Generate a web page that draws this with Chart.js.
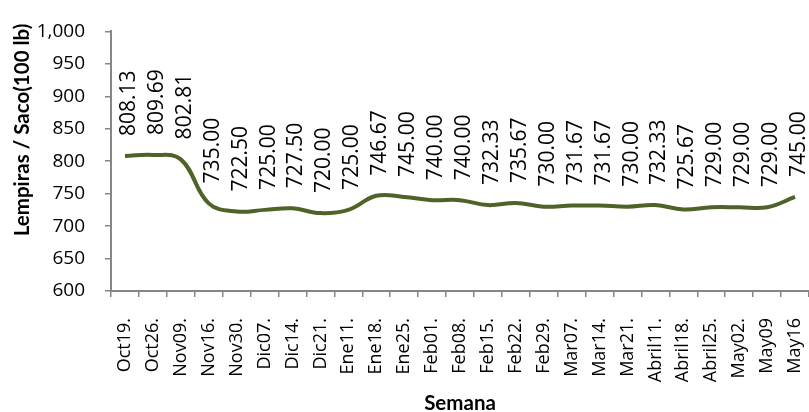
<!DOCTYPE html>
<html>
<head>
<meta charset="utf-8">
<script src="https://cdn.jsdelivr.net/npm/chart.js@4"></script>
<style>
  html, body { margin: 0; padding: 0; background: #fff; }
  #wrap { width: 809px; height: 412px; }
</style>
</head>
<body>
<div id="wrap"><canvas id="myChart" width="809" height="412"></canvas></div>
<script>
// weeks
const semanas = ["Oct19.", "Oct26.", "Nov09.", "Nov16.", "Nov30.", "Dic07.", "Dic14.", "Dic21.",
  "Ene11.", "Ene18.", "Ene25.", "Feb01.", "Feb08.", "Feb15.", "Feb22.", "Feb29.",
  "Mar07.", "Mar14.", "Mar21.", "Abril11.", "Abril18.", "Abril25.", "May02.", "May09", "May16"];

// price per sack
const precios = [808.13, 809.69, 802.81, 735.00, 722.50, 725.00, 727.50, 720.00,
  725.00, 746.67, 745.00, 740.00, 740.00, 732.33, 735.67, 730.00,
  731.67, 731.67, 730.00, 732.33, 725.67, 729.00, 729.00, 729.00, 745.00];

const yMin = 600;
const yMax = 1000;
const yStep = 50;

const axisColor = "#868686";
const lineColor = "#4f6228";

// labels over every point, rotated
const valueLabels = {
  id: "valueLabels",
  afterDatasetsDraw(chart) {
    let ctx = chart.ctx;
    let meta = chart.getDatasetMeta(0);
    ctx.save();
    ctx.font = "21px 'Open Sans'";
    ctx.fillStyle = "#000";
    ctx.textAlign = "left";
    ctx.textBaseline = "middle";
    meta.data.forEach((pt, i) => {
      ctx.save();
      ctx.translate(pt.x + 4, pt.y - 20);
      ctx.rotate(-Math.PI / 2);
      ctx.fillText(precios[i].toFixed(2), 0, 0);
      ctx.restore();
    });
    ctx.restore();
  }
};

// y title sits a bit above the middle in the original
const yTitle = {
  id: "yTitle",
  afterDraw(chart) {
    let ctx = chart.ctx;
    ctx.save();
    ctx.font = "bold 20.5px Lato";
    ctx.fillStyle = "#000";
    ctx.textAlign = "center";
    ctx.textBaseline = "middle";
    ctx.translate(22, 130);
    ctx.rotate(-Math.PI / 2);
    ctx.fillText("Lempiras / Saco(100 lb)", 0, 0);
    ctx.restore();
  }
};

var ctx = document.getElementById("myChart");
var myChart = new Chart(ctx, {
  type: "line",
  data: {
    labels: semanas,
    datasets: [
      {
        data: precios,
        borderColor: lineColor,
        borderWidth: 4,
        pointRadius: 0,
        tension: 0.4,
        fill: false,
      },
    ],
  },
  options: {
    responsive: false,
    animation: false,
    layout: { padding: { top: 12, right: 0, left: 0, bottom: 0 } },
    plugins: {
      legend: { display: false },
      tooltip: { enabled: false },
    },
    scales: {
      x: {
        offset: true,
        grid: {
          offset: true,
          drawOnChartArea: false,
          drawTicks: true,
          tickLength: 6,
          color: axisColor,
          lineWidth: 1.5,
        },
        border: { color: axisColor, width: 2 },
        ticks: {
          autoSkip: false,
          maxRotation: 90,
          minRotation: 90,
          padding: 21,
          color: "#000",
          font: { family: "'Open Sans'", size: 18 },
        },
        title: {
          display: true,
          text: "Semana",
          color: "#000",
          font: { family: "Lato", size: 20.5, weight: "bold" },
          padding: { top: 0, bottom: -4 },
        },
        afterFit: (s) => {
          s.height = 121;
          s.paddingLeft = 0;
          s.paddingRight = 0;
        },
      },
      y: {
        min: yMin,
        max: yMax,
        grid: {
          drawOnChartArea: false,
          drawTicks: true,
          tickLength: 6,
          color: axisColor,
          lineWidth: 1.5,
        },
        border: { color: axisColor, width: 2 },
        ticks: {
          stepSize: yStep,
          padding: 20,
          color: "#000",
          font: { family: "'Open Sans'", size: 19 },
          callback: (v) => v.toLocaleString("en-US"),
        },
        afterFit: (s) => { s.width = 111; },
      },
    },
  },
  plugins: [valueLabels, yTitle],
});
</script>
</body>
</html>
